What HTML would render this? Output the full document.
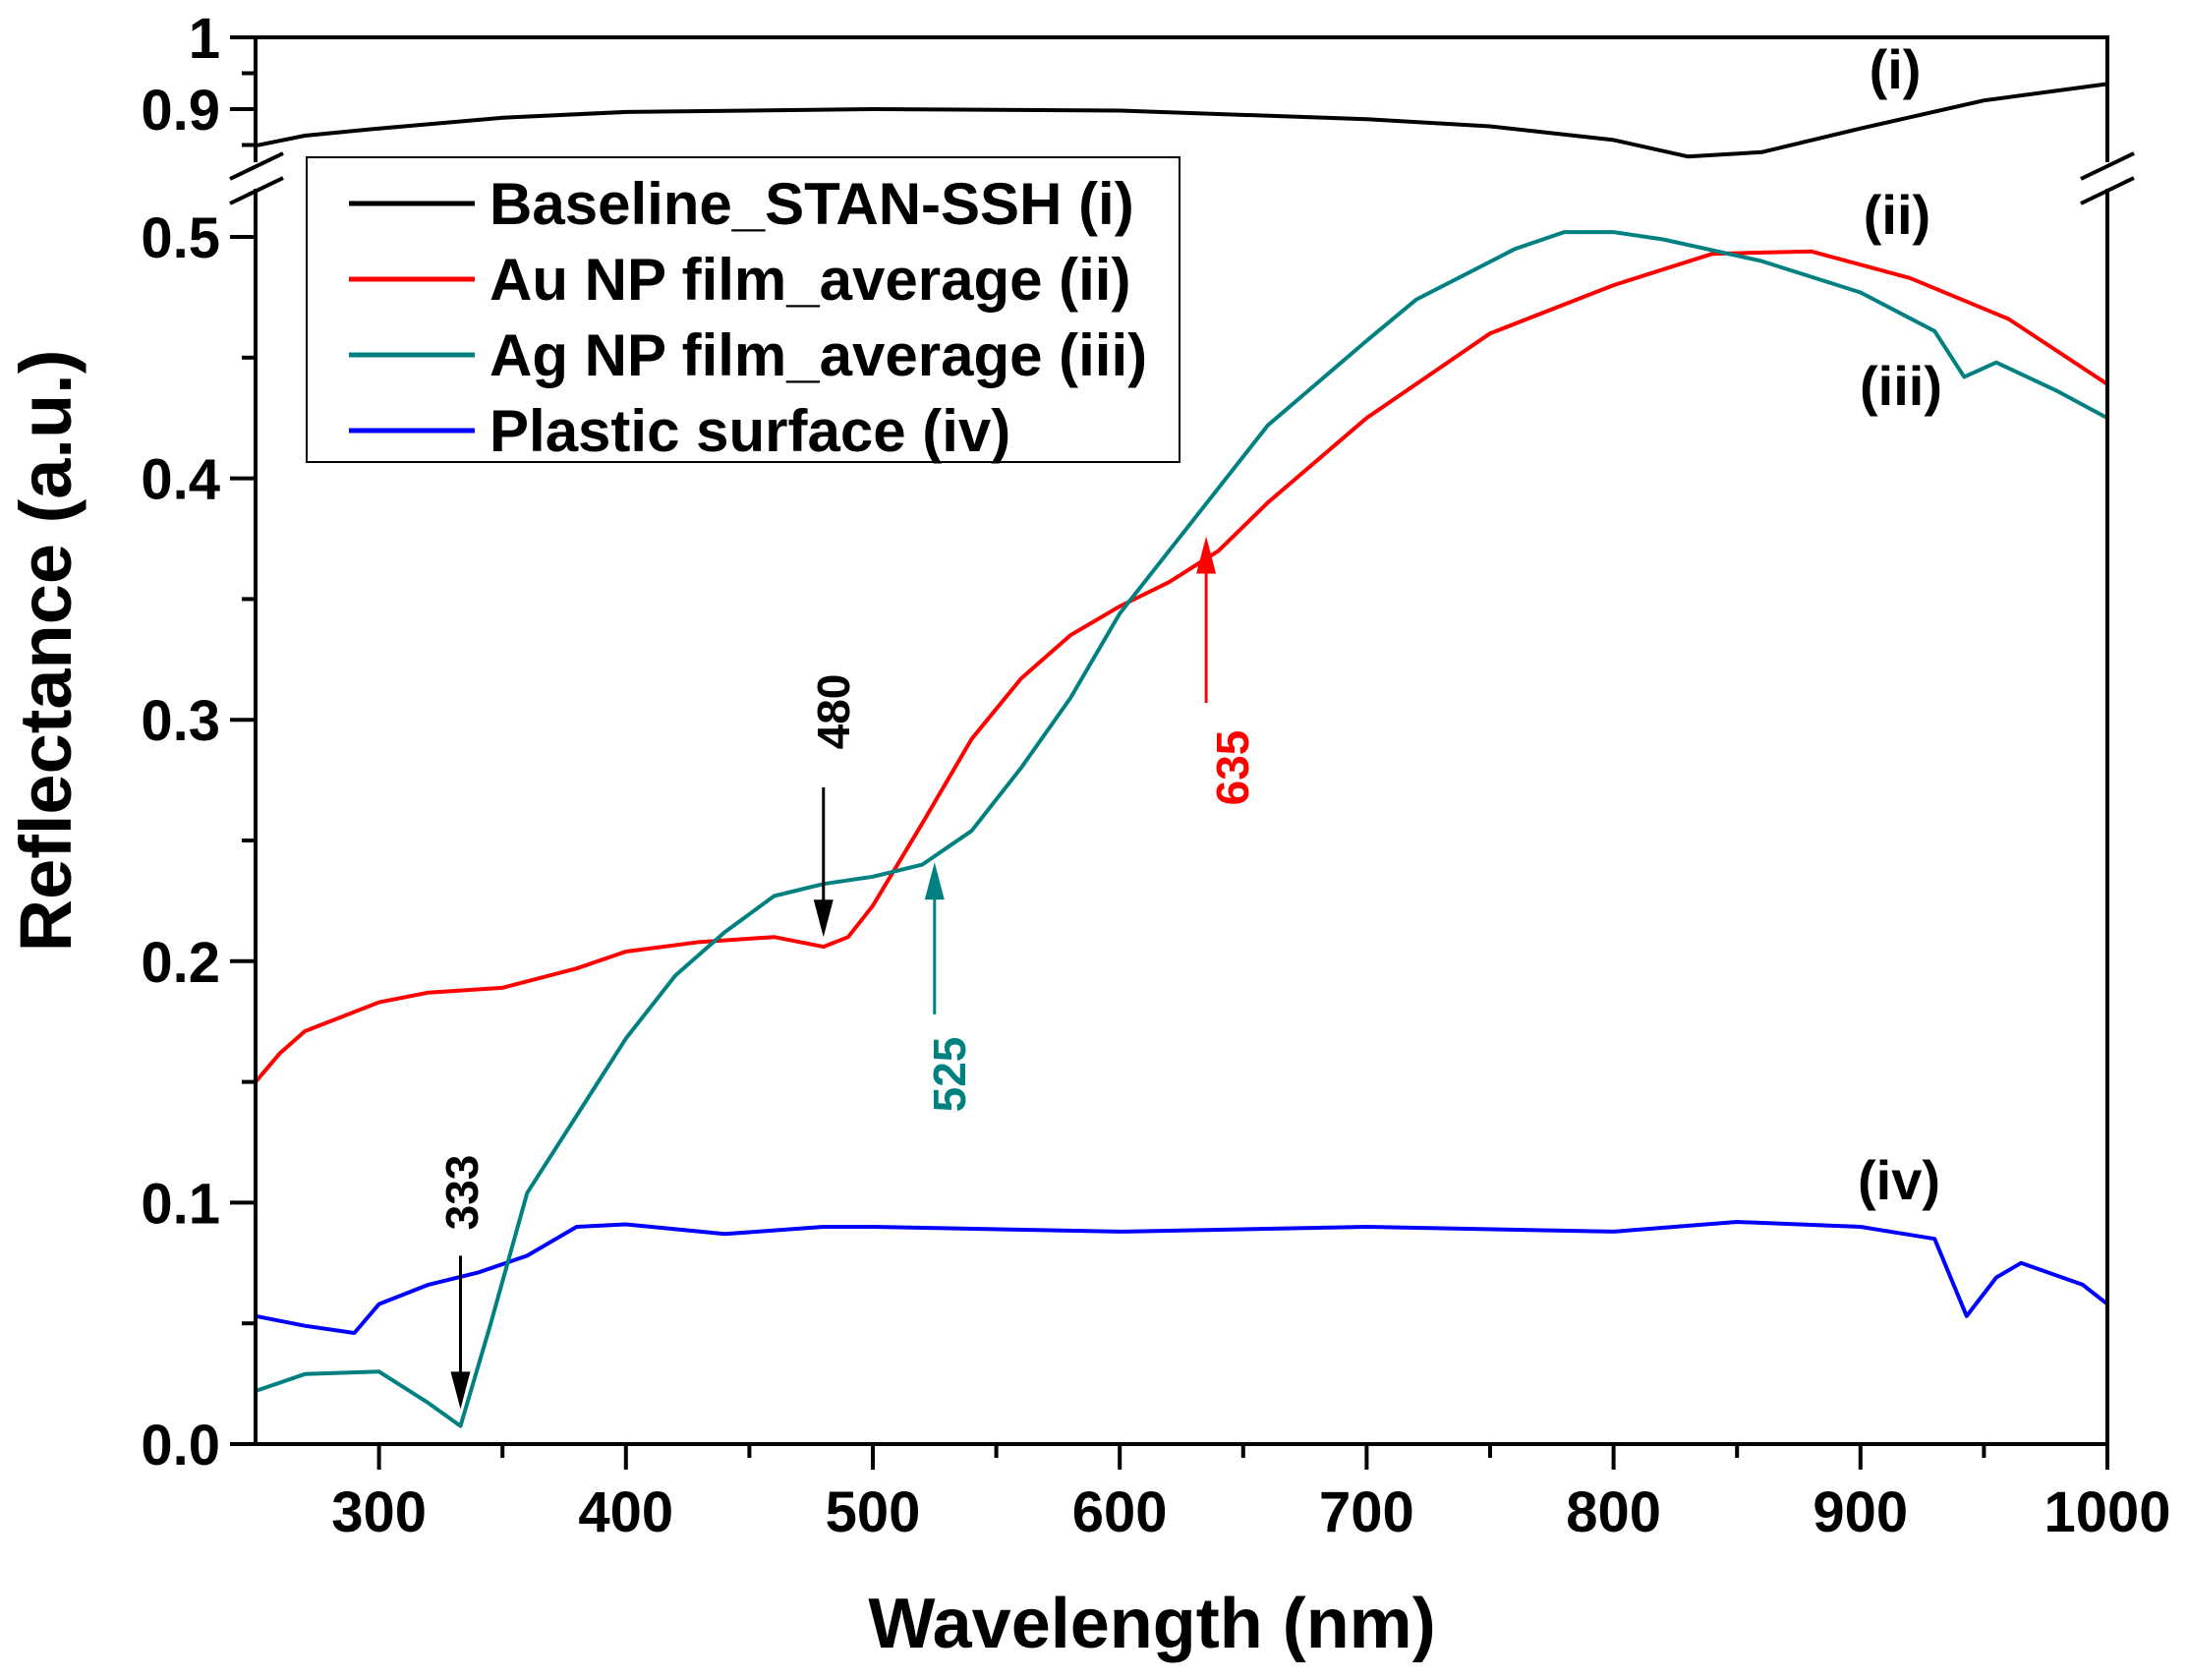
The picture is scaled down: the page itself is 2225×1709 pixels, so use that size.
<!DOCTYPE html>
<html><head><meta charset="utf-8"><style>
html,body{margin:0;padding:0;background:#fff}
svg{display:block}
text{font-family:"Liberation Sans",Arial,sans-serif;font-weight:bold}
</style></head><body>
<svg id="chart" width="2225" height="1709" viewBox="0 0 2225 1709" xmlns="http://www.w3.org/2000/svg">
<g id="marks"></g>
</svg>
<script>
const wlBaseline=[250,270,300,350,400,500,600,700,750,800,830,860,900,950,1000];
const valBaseline=[0.849,0.863,0.873,0.888,0.896,0.9,0.898,0.886,0.876,0.857,0.834,0.84,0.873,0.912,0.935];
const wlAu=[250,260,270,300,320,350,380,400,430,460,480,490,500,520,540,560,580,600,620,640,660,700,750,800,840,880,920,960,1000];
const valAu=[0.150,0.162,0.171,0.183,0.187,0.189,0.197,0.204,0.208,0.210,0.206,0.21,0.223,0.257,0.292,0.317,0.335,0.347,0.357,0.37,0.39,0.425,0.46,0.48,0.493,0.494,0.483,0.466,0.439];
const wlAg=[250,270,300,320,333,345,360,380,400,420,440,460,480,500,520,540,560,580,600,620,640,660,700,720,760,780,800,820,860,900,930,942,955,980,1000];
const valAg=[0.022,0.029,0.030,0.017,0.0075,0.049,0.104,0.136,0.168,0.194,0.212,0.227,0.232,0.235,0.240,0.254,0.280,0.309,0.344,0.370,0.396,0.422,0.457,0.474,0.495,0.502,0.502,0.499,0.490,0.477,0.461,0.442,0.448,0.436,0.425];
const wlPl=[250,270,290,300,320,340,360,380,400,440,480,500,600,700,800,850,900,930,943,955,965,990,1000];
const valPl=[0.053,0.049,0.046,0.058,0.066,0.071,0.078,0.090,0.091,0.087,0.090,0.090,0.088,0.090,0.088,0.092,0.090,0.085,0.053,0.069,0.075,0.066,0.058];
const xTicks=[300,400,500,600,700,800,900,1000];
const yTicksLow=[0,0.1,0.2,0.3,0.4,0.5];
const yTickLabelsLow=["0.0","0.1","0.2","0.3","0.4","0.5"];
const yTicksUp=[0.9,1];
const yTickLabelsUp=["0.9","1"];

const L=260,R=2144,B=1469,T=38;
const X=w=>L+(w-250)*(R-L)/750;
const YL=v=>B-v*2456;
const YU=v=>T+(1-v)*730;
const NS="http://www.w3.org/2000/svg";
const g=document.getElementById('marks');
function mk(tag,attrs,name,txt){const e=document.createElementNS(NS,tag);for(const k in attrs)e.setAttribute(k,attrs[k]);if(txt!==undefined)e.textContent=txt;g.appendChild(e);return e;}
function line(x1,y1,x2,y2,name,c,w){return mk('line',{x1,y1,x2,y2,stroke:c||'#000','stroke-width':w||4},name);}

function series(ws,vs,fy,color,name){
  const pts=ws.map((w,i)=>X(w).toFixed(1)+','+fy(vs[i]).toFixed(1)).join(' ');
  mk('polyline',{points:pts,fill:'none',stroke:color,'stroke-width':4,'stroke-linejoin':'round'},name);
}
series(wlBaseline,valBaseline,YU,'#000','baseline-line');
series(wlPl,valPl,YL,'#0000ff','plastic-line');
series(wlAu,valAu,YL,'#ff0000','au-line');
series(wlAg,valAg,YL,'#008080','ag-line');

line(L,T,R,T,'top-axis');
line(L-2,B,R+2,B,'x-axis');
line(L,T-2,L,165,'y-axis-upper');
line(L,192,L,B,'y-axis-lower');
line(R,T-2,R,165,'right-axis-upper');
line(R,192,R,B,'right-axis-lower');
line(234,182,288,156,'break-mark-left');line(234,207,288,181,'break-mark-left');
line(2117,182,2171,156,'break-mark-right');line(2117,207,2171,181,'break-mark-right');

for(let w=300;w<=1000;w+=50){
  const major=w%100===0;
  line(X(w),B,X(w),B+(major?26:14),major?'x-tick':'x-minor-tick');
}
xTicks.forEach(w=>mk('text',{x:X(w),y:1558,'font-size':58,'text-anchor':'middle'},'x-tick-label',String(w)));
for(let v=0.05;v<0.5;v+=0.1){line(L-14,YL(v),L,YL(v),'y-minor-tick');}
yTicksLow.forEach((v,i)=>{line(L-26,YL(v),L,YL(v),'y-tick');
  mk('text',{x:224,y:YL(v)+21,'font-size':58,'text-anchor':'end'},'y-tick-label',yTickLabelsLow[i]);});
[0.95,0.85].forEach(v=>line(L-14,YU(v),L,YU(v),'y-minor-tick-upper'));
yTicksUp.forEach((v,i)=>{line(L-26,YU(v),L,YU(v),'y-tick-upper');
  mk('text',{x:224,y:YU(v)+21,'font-size':58,'text-anchor':'end'},'y-tick-label-upper',yTickLabelsUp[i]);});

mk('text',{x:1172,y:1676,'font-size':72,'text-anchor':'middle'},'x-axis-title','Wavelength (nm)');
mk('text',{x:0,y:0,'font-size':74,'text-anchor':'middle',transform:'translate(72,662) rotate(-90)'},'y-axis-title','Reflectance (a.u.)');

mk('rect',{x:312,y:160,width:888,height:310,fill:'#fff',stroke:'#000','stroke-width':2},'legend-box');
const legNames=['Baseline_STAN-SSH (i)','Au NP film_average (ii)','Ag NP film_average (iii)','Plastic surface (iv)'];
const legColors=['#000','#ff0000','#008080','#0000ff'];
legNames.forEach((n,i)=>{const y=207+i*77;
  line(355,y,483,y,'legend-swatch',legColors[i],5);
  mk('text',{x:498,y:y+21,'font-size':60},'legend-entry',n);});

[['(i)',1928,90],['(ii)',1930,238],['(iii)',1934,412],['(iv)',1932,1220]].forEach(a=>
  mk('text',{x:a[1],y:a[2],'font-size':56,'text-anchor':'middle'},'curve-label',a[0]));

function arrow(w,v1,v2,color,name){
  const x=X(w),y1=YL(v1),y2=YL(v2),d=y2>y1?1:-1;
  line(x,y1,x,y2-d*30,name,color,3);
  mk('polygon',{points:`${x-10},${y2-d*38} ${x+10},${y2-d*38} ${x},${y2}`,fill:color},name+'-head');
}
arrow(480,0.272,0.21,'#000','arrow-480');
arrow(333,0.078,0.0145,'#000','arrow-333');
arrow(525,0.178,0.241,'#008080','arrow-525');
arrow(635,0.307,0.376,'#ff0000','arrow-635');
function vlab(t,x,y,c,name){mk('text',{x:0,y:0,'font-size':46,'text-anchor':'middle',fill:c,transform:`translate(${x},${y}) rotate(-90)`},name,t);}
vlab('480',864,724,'#000','label-480');
vlab('333',486,1213,'#000','label-333');
vlab('525',982,1093,'#008080','label-525');
vlab('635',1270,781,'#ff0000','label-635');
</script>
</body></html>
